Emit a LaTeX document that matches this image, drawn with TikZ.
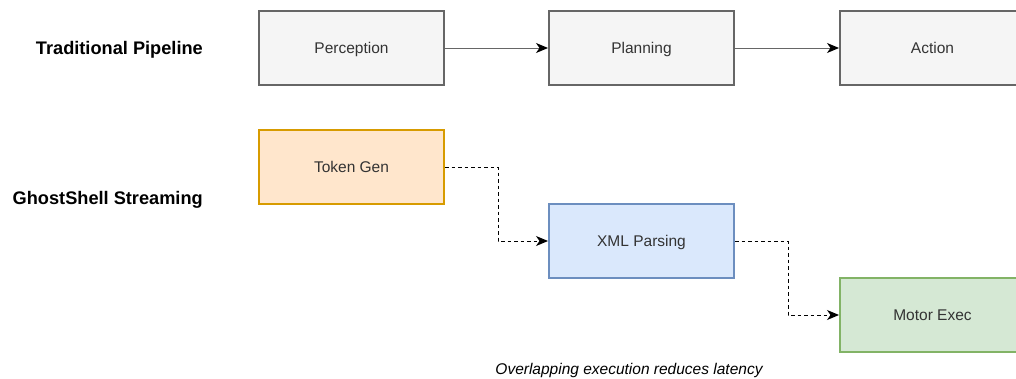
\documentclass[tikz,border=0pt]{standalone}
\usepackage{fontspec}
\setmainfont{Liberation Sans}
\usetikzlibrary{arrows.meta}
\definecolor{grayfill}{HTML}{F5F5F5}
\definecolor{graystroke}{HTML}{666666}
\definecolor{txt}{HTML}{333333}
\definecolor{orfill}{HTML}{FFE6CC}
\definecolor{orstroke}{HTML}{D79B00}
\definecolor{blfill}{HTML}{DAE8FC}
\definecolor{blstroke}{HTML}{6C8EBF}
\definecolor{grfill}{HTML}{D5E8D4}
\definecolor{grstroke}{HTML}{82B366}
\tikzset{
  boxnode/.style={rectangle, minimum width=185pt, minimum height=74pt, line width=2pt, inner sep=0pt,
    text=txt, font=\fontsize{15.5}{18}\selectfont, text depth=0pt},
  graybox/.style={boxnode, fill=grayfill, draw=graystroke},
  orbox/.style={boxnode, fill=orfill, draw=orstroke},
  blbox/.style={boxnode, fill=blfill, draw=blstroke},
  grbox/.style={boxnode, fill=grfill, draw=grstroke},
  rowlabel/.style={anchor=east, font=\fontsize{18.2}{21}\selectfont\bfseries, text=black, inner sep=0pt, text depth=0pt},
  solidarrow/.style={draw=graystroke, line width=1pt, -{Stealth[length=12pt,width=10pt,inset=3.5pt,color=black]}},
  dasharrow/.style={draw=black, line width=1pt, dash pattern=on 3.5pt off 3pt, -{Stealth[length=12pt,width=10pt,inset=3.5pt]}},
}
\begin{document}
\begin{tikzpicture}[x=1pt,y=-1pt]
\clip (0,0) rectangle (1016,378);
\fill[white] (0,0) rectangle (1016,378);
\node[graybox] (perc) at (351.5,48) {Perception};
\node[graybox] (plan) at (641.5,48) {Planning};
\node[graybox] (act) at (932.5,48) {Action};
\node[orbox] (tok) at (351.5,167) {Token Gen};
\node[blbox] (xml) at (641.5,241) {XML Parsing};
\node[grbox] (mot) at (932.5,315) {Motor Exec};
\node[rowlabel] (lab1) at (203,48) {Traditional Pipeline};
\node[rowlabel] (lab2) at (203,198) {GhostShell Streaming};
\node[font=\fontsize{15.5}{18}\selectfont\itshape, text=black, inner sep=0pt, text depth=0pt] (cap) at (629,369) {Overlapping execution reduces latency};
\draw[solidarrow] (perc) -- (plan);
\draw[solidarrow] (plan) -- (act);
\draw[dasharrow] (tok.east) -| (498,241) -- (xml.west);
\draw[dasharrow] (xml.east) -| (788,315) -- (mot.west);
\end{tikzpicture}
\end{document}
